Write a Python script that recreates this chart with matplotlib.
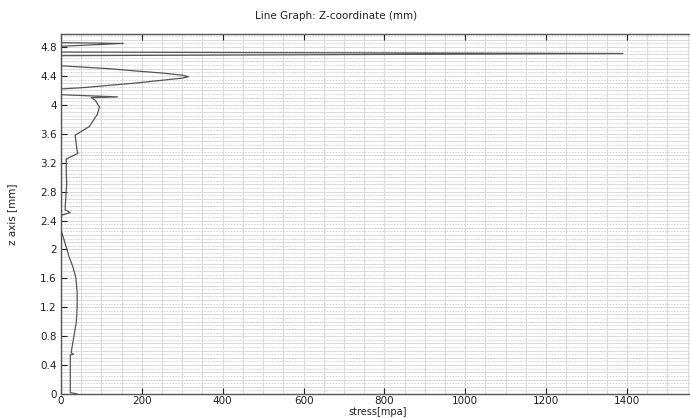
import numpy as np
import matplotlib.pyplot as plt

# stress [mpa] vs z [mm], bottom to top
stress = [40, 23, 23, 23, 31, 25, 38, 40, 40, 37, 30, 20, 12, 5, 0, 0, 23, 10, 14, 13, 13,
          42, 40, 35, 70, 90, 95, 85, 75, 140, 0, 0, 60, 120, 182, 250, 300, 315, 300, 250,
          182, 120, 60, 0, 0, 1390, 0, 0, 154, 0, 0]
z = [0.0, 0.02, 0.3, 0.54, 0.55, 0.57, 1.0, 1.2, 1.4, 1.6, 1.75, 1.9, 2.05, 2.18, 2.27,
     2.47, 2.51, 2.55, 2.9, 3.1, 3.25, 3.33, 3.36, 3.58, 3.7, 3.87, 3.97, 4.06, 4.1, 4.11,
     4.14, 4.22, 4.24, 4.27, 4.30, 4.34, 4.37, 4.39, 4.41, 4.44, 4.47, 4.50, 4.52, 4.54,
     4.68, 4.71, 4.73, 4.81, 4.85, 4.86, 5.0]

xticks = [0, 200, 400, 600, 800, 1000, 1200, 1400]
yticks = [0, 0.4, 0.8, 1.2, 1.6, 2, 2.4, 2.8, 3.2, 3.6, 4, 4.4, 4.8]
ylabels = ['0', '0.4', '0.8', '1.2', '1.6', '2', '2.4', '2.8', '3.2', '3.6', '4', '4.4', '4.8']

fig = plt.figure(figsize=(6.9, 4.18), dpi=100)
ax = fig.add_axes([61/690, 1 - 394/418, 1.02 - 61/690, 360/418])

# grid
for gx in np.arange(50, 1650, 50):
    ax.axvline(gx, color='#dcdcdc', lw=0.8, zorder=0)
for i, gy in enumerate(np.arange(0.05, 5.0, 0.05)):
    if i % 2:
        ax.axhline(gy, color='#dcdcdc', lw=0.8, zorder=0)
    else:
        ax.axhline(gy, color='#d0d0d0', lw=0.6, ls=(0, (2, 1.5)), zorder=0)

ax.plot(stress, z, color='#555555', lw=0.9)

ax.set_xlim(0, 1590)
ax.set_ylim(0, 4.98)
ax.set_xticks(xticks)
ax.set_xticklabels([str(v) for v in xticks])
ax.set_yticks(yticks)
ax.set_yticklabels(ylabels)
ax.tick_params(direction='in', length=4, width=0.8, labelsize=7.5, colors='#222222',
               top=True, pad=3)
ax.tick_params(axis='x', pad=1.5)
for s in ax.spines.values():
    s.set_color('#555555')
    s.set_linewidth(1.0)

fig.text(336/690, 1 - 16/418, 'Line Graph: Z-coordinate (mm)', ha='center', va='center',
         fontsize=7.5, color='#222222')
fig.text(378/690, 1 - 412/418, 'stress[mpa]', ha='center', va='center',
         fontsize=7, color='#222222')
fig.text(12/690, 1 - 214/418, 'z axis [mm]', ha='center', va='center', rotation=90,
         fontsize=7.5, color='#222222')

fig.savefig('out.png', dpi=100)
